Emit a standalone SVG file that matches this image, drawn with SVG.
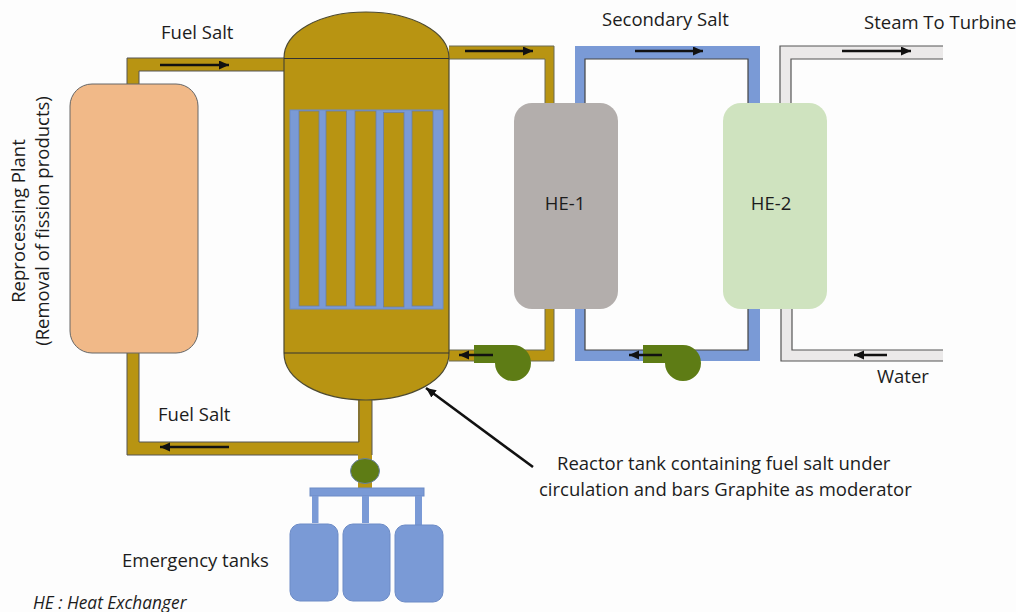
<svg xmlns="http://www.w3.org/2000/svg" width="1016" height="612" viewBox="0 0 1016 612">
<defs>
<marker id="ah" markerUnits="userSpaceOnUse" markerWidth="12" markerHeight="10" refX="10" refY="4.500" orient="auto"><path d="M0 0L10 4.500L0 9Z" fill="#111"/></marker>
</defs>
<style>
text{font-family:"Open Sans","Noto Sans",sans-serif;font-size:18.5px;fill:#1c1c1c}
.line{stroke:#333;stroke-width:1.2}
.fuel{fill:#b89412}
.blue{fill:#7a9ad6}
.flow{stroke:#111;stroke-width:2.6;fill:none;marker-end:url(#ah)}
.pump{fill:#5e7c15}
.tank{fill:#7a9ad6;stroke:#6c8bc6;stroke-width:1}
</style>
<rect width="1016" height="612" fill="#fdfdfd"/>
<g id="connectors">
<g id="fuel-loop-left">
<path class="fuel" d="M127 58H284V71H139V84H127ZM127 353H139V442H358V400H372V488H358V455H127Z"/>
<path d="M127 84V58H284M139 84V71H284M127 353V455H358M139 353V442H359V400M372 400V455" fill="none" stroke="#555" stroke-width="1"/>
</g>
<g id="fuel-loop-right">
<path class="fuel" d="M449 46H554V103H545V59H449ZM545 309H554V361H449V350H545Z"/>
<path d="M449 46H554V103M449 59H545V103M545 309V350H449M554 309V361H449" fill="none" stroke="#6b6b55" stroke-width="1"/>
</g>
<g id="secondary-loop">
<path class="blue" d="M575 46H760V103H748V59H585V103H575ZM575 309H585V350H748V309H760V361H575Z"/>
<path d="M585 103V59H748V103M585 309V350H748V309" fill="none" stroke="#444" stroke-width="1.2"/>
</g>
<g id="steam-loop">
<path d="M943 46H780V103H791V59H943ZM943 350H792V309H781V361H943Z" fill="#ebe9e9"/>
<path d="M943 46H780V103M791 103V59H943M943 350H792V309M781 309V361H943" fill="none" stroke="#555" stroke-width="1.2"/>
</g>
<g id="flow-arrows">
<line class="flow" x1="160" y1="65" x2="229" y2="65"/>
<line class="flow" x1="465" y1="51" x2="533" y2="51"/>
<line class="flow" x1="635" y1="51" x2="703" y2="51"/>
<line class="flow" x1="842" y1="51" x2="911" y2="51"/>
<line class="flow" x1="229" y1="447" x2="160" y2="447"/>
<line class="flow" x1="887" y1="355" x2="854" y2="355"/>
<line stroke="#111" stroke-width="2.6" x1="533" y1="467" x2="426" y2="388" marker-end="url(#ah)"/>
</g>
<g id="tank-lines" class="blue">
<rect x="310" y="488" width="114" height="8" stroke="#6c8bc6"/>
<rect x="312" y="496" width="6.500" height="27"/>
<rect x="362" y="496" width="7" height="27"/>
<rect x="415" y="496" width="7" height="30"/>
</g>
</g>
<g id="reactor-tank">
<path class="fuel" d="M284 58C284 32 320 12 366 12C412 12 449 32 449 58V353C449 380 412 400 366 400C320 400 284 380 284 353Z" stroke="#4d4a30" stroke-width="1.2"/>
<line class="line" x1="284" y1="58.500" x2="449" y2="58.500"/>
<line class="line" x1="284" y1="353" x2="449" y2="353" stroke-width="1.6"/>
<rect class="blue" x="290" y="110" width="153" height="199" stroke="#6c8bc6"/>
<g class="fuel" stroke="#6b7ea0" stroke-width="0.8">
<rect x="299" y="111" width="20" height="195"/>
<rect x="326" y="111" width="20.500" height="195"/>
<rect x="355" y="111" width="21" height="195"/>
<rect x="383.500" y="112.500" width="20.500" height="194.500"/>
<rect x="412" y="111" width="21" height="195"/>
</g>
</g>
<g id="reprocessing-plant"><rect x="70" y="84" width="128" height="269" rx="22" fill="#f1b988" stroke="#666" stroke-width="1"/></g>
<g id="he-1"><rect x="514" y="103" width="104" height="206" rx="18" fill="#b3aeac"/><text x="565" y="210" text-anchor="middle">HE-1</text></g>
<g id="he-2"><rect x="723" y="103" width="104" height="206" rx="18" fill="#cfe3bf"/><text x="771" y="210" text-anchor="middle">HE-2</text></g>
<g id="pump-1"><path class="pump" d="M474 345H513A18 18 0 1 1 495 363H474Z"/></g>
<g id="pump-2"><path class="pump" d="M643 345H683A18 18 0 1 1 665 363H643Z"/></g>
<line class="flow" x1="493" y1="355" x2="459" y2="355"/>
<line class="flow" x1="662" y1="355" x2="629" y2="355"/>
<g id="valve"><ellipse cx="365" cy="471" rx="14.500" ry="12.500" class="pump" stroke="#6b83a0"/></g>
<g id="emergency-tanks">
<rect class="tank" x="290" y="524" width="48" height="77" rx="10"/>
<rect class="tank" x="343" y="524" width="47" height="77" rx="10"/>
<rect class="tank" x="395" y="525" width="48" height="77" rx="10"/>
</g>
<g id="labels">
<text x="161" y="39">Fuel Salt</text>
<text x="158" y="421">Fuel Salt</text>
<text x="602" y="26">Secondary Salt</text>
<text x="864" y="29">Steam To Turbine</text>
<text x="877" y="383">Water</text>
<text x="122" y="567">Emergency tanks</text>
<text x="557" y="470">Reactor tank containing fuel salt under</text>
<text x="539" y="496">circulation and bars Graphite as moderator</text>
<text x="33" y="609" style="font-style:italic;font-size:17.300px">HE : Heat Exchanger</text>
<text transform="translate(25 221) rotate(-90)" text-anchor="middle">Reprocessing Plant</text>
<text transform="translate(49 221) rotate(-90)" text-anchor="middle">(Removal of fission products)</text>
</g>
</svg>
